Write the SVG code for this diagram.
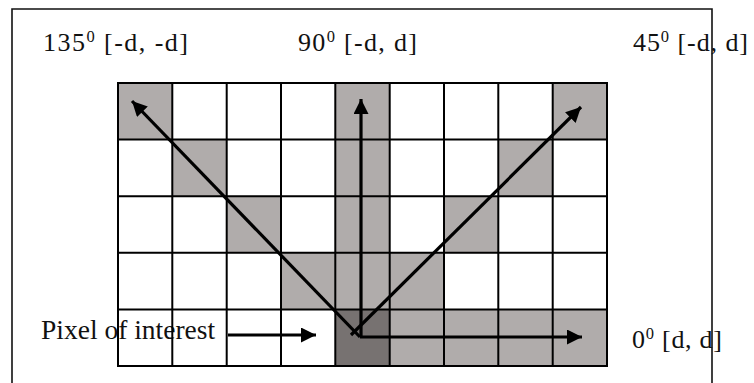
<svg xmlns="http://www.w3.org/2000/svg" width="754" height="383" viewBox="0 0 754 383">
<style>
.lbl{font-family:"Liberation Serif","Times New Roman",serif;font-size:26px;fill:#111}
.poi{font-family:"Liberation Serif","Times New Roman",serif;font-size:27.5px;fill:#111}
.sup{font-size:16.5px}
.lt{fill:#b0acab}
.dk{fill:#777271}
.grid{stroke:#000;stroke-width:2;fill:none}
.arr{stroke:#000;stroke-width:3.2;fill:none;marker-end:url(#ah)}
.frame{stroke:#111;stroke-width:1.6;fill:none}
</style>
<defs>
<marker id="ah" markerUnits="userSpaceOnUse" markerWidth="16" markerHeight="16" refX="15" refY="7.5" orient="auto">
<path d="M0,0 L15,7.5 L0,15 z" fill="#000"/>
</marker>
</defs>
<rect width="754" height="383" fill="#fff"/>
<g id="cells">
<rect class="lt" x="118" y="83" width="54.3" height="56.6"/>
<rect class="lt" x="335.3" y="83" width="54.4" height="56.6"/>
<rect class="lt" x="552.7" y="83" width="54.3" height="56.6"/>
<rect class="lt" x="172.3" y="139.6" width="54.4" height="56.6"/>
<rect class="lt" x="335.3" y="139.6" width="54.4" height="56.6"/>
<rect class="lt" x="498.3" y="139.6" width="54.4" height="56.6"/>
<rect class="lt" x="226.7" y="196.2" width="54.3" height="56.6"/>
<rect class="lt" x="335.3" y="196.2" width="54.4" height="56.6"/>
<rect class="lt" x="444" y="196.2" width="54.3" height="56.6"/>
<rect class="lt" x="281" y="252.8" width="163" height="56.6"/>
<rect class="dk" x="335.3" y="309.4" width="54.4" height="56.6"/>
<rect class="lt" x="389.7" y="309.4" width="217.3" height="56.6"/>
</g>
<g id="labels">
<g id="label-135"><text class="lbl" x="43" y="51" textLength="145" lengthAdjust="spacing">135<tspan class="sup" dy="-9">0</tspan><tspan dy="9"> [-d, -d]</tspan></text></g>
<g id="label-90"><text class="lbl" x="298" y="51" textLength="119" lengthAdjust="spacing">90<tspan class="sup" dy="-9">0</tspan><tspan dy="9"> [-d, d]</tspan></text></g>
<g id="label-45"><text class="lbl" x="633" y="51" textLength="115" lengthAdjust="spacing">45<tspan class="sup" dy="-9">0</tspan><tspan dy="9"> [-d, d]</tspan></text></g>
<g id="label-0"><text class="lbl" x="632" y="348" textLength="90" lengthAdjust="spacing">0<tspan class="sup" dy="-9">0</tspan><tspan dy="9"> [d, d]</tspan></text></g>
<g id="label-poi"><text class="poi" x="41" y="339">Pixel of interest</text></g>
</g>
<g id="grid" class="grid">
<rect x="118" y="83" width="489" height="283"/>
<path d="M172.3,83V366M226.7,83V366M281,83V366M335.3,83V366M389.7,83V366M444,83V366M498.3,83V366M552.7,83V366"/>
<path d="M118,139.6H607M118,196.2H607M118,252.8H607M118,309.4H607"/>
</g>
<g id="connectors">
<line class="arr" x1="360" y1="337" x2="582" y2="337"/>
<line class="arr" x1="361" y1="337" x2="361" y2="99"/>
<line class="arr" x1="360" y1="337" x2="132" y2="101"/>
<line class="arr" x1="351" y1="335" x2="581" y2="107"/>
<line class="arr" x1="228" y1="335" x2="316" y2="335"/>
</g>
<g id="frame" class="frame">
<path d="M12,383V9H712V383"/>
</g>
</svg>
